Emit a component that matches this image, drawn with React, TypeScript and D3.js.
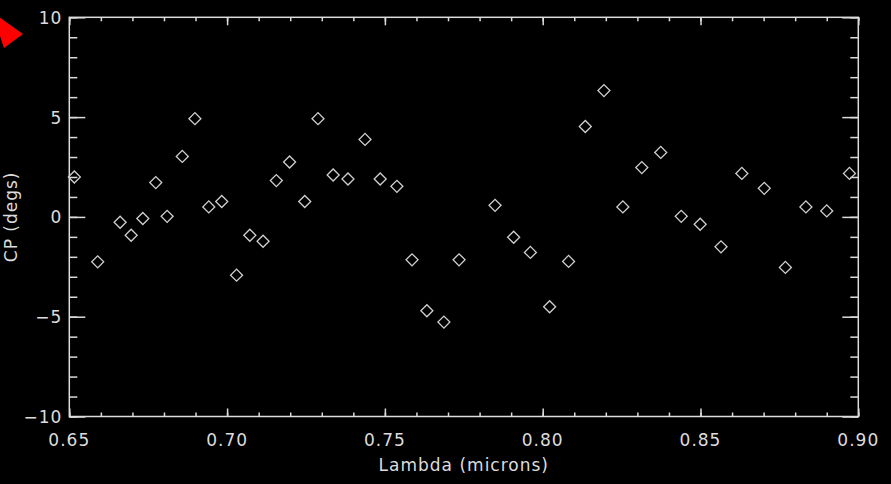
import React, { useEffect, useRef } from "react";
import * as d3 from "d3";

// wavelength in microns
const lambda = [
  0.6516, 0.659, 0.6661, 0.6696, 0.6733, 0.6774, 0.681, 0.6858, 0.6898, 0.6942,
  0.6983, 0.703, 0.7072, 0.7114, 0.7156, 0.7198, 0.7246, 0.7288, 0.7336, 0.7383,
  0.7437, 0.7485, 0.7538, 0.7586, 0.7633, 0.7687, 0.7735, 0.7849, 0.7908, 0.7961,
  0.8022, 0.8082, 0.8135, 0.8194, 0.8254, 0.8314, 0.8374, 0.8439, 0.8499, 0.8565,
  0.8631, 0.8702, 0.8769, 0.8834, 0.89, 0.8972,
];

// closure phase in degrees
const cp = [
  2.0, -2.25, -0.27, -0.92, -0.08, 1.72, 0.03, 3.03, 4.92, 0.5,
  0.77, -2.92, -0.92, -1.22, 1.82, 2.75, 0.77, 4.92, 2.1, 1.9,
  3.88, 1.9, 1.53, -2.15, -4.7, -5.27, -2.15, 0.58, -1.02, -1.78,
  -4.5, -2.23, 4.53, 6.33, 0.5, 2.47, 3.23, 0.03, -0.37, -1.5,
  2.18, 1.43, -2.53, 0.5, 0.3, 2.18,
];

const xMajor = [0.65, 0.7, 0.75, 0.8, 0.85, 0.9];
const xLabels = ["0.65", "0.70", "0.75", "0.80", "0.85", "0.90"];
const yMajor = [-10, -5, 0, 5, 10];
const yLabels = ["\u221210", "\u22125", "0", "5", "10"];

const xTitle = "Lambda (microns)";
const yTitle = "CP (degs)";

export default function App() {
  const ref = useRef<SVGSVGElement>(null);

  useEffect(() => {
    const W = 891, H = 484;
    const left = 69.3, right = 858.3, top = 17.3, bottom = 416.5;
    const fg = "#dcdcdc";
    const font = "'DejaVu Sans', sans-serif";

    const svg = d3.select(ref.current);
    svg.selectAll("*").remove();
    svg.attr("width", W).attr("height", H);

    svg.append("rect").attr("width", W).attr("height", H).attr("fill", "#000");

    const x = d3.scaleLinear().domain([0.65, 0.9]).range([left, right]);
    const y = d3.scaleLinear().domain([-10, 10]).range([bottom, top]);

    const xMinor = d3.range(65, 91).map((v) => v / 100);
    const yMinor = d3.range(-10, 11);

    const styleAxis = (g: any) => {
      g.select(".domain").remove();
      g.selectAll("line").attr("stroke", fg).attr("stroke-width", 1.5);
      g.selectAll("text").remove();
    };

    // minor + major ticks on all four sides
    svg.append("g").attr("transform", `translate(0,${bottom})`)
      .call(d3.axisBottom(x).tickValues(xMinor).tickSize(-4)).call(styleAxis);
    svg.append("g").attr("transform", `translate(0,${bottom})`)
      .call(d3.axisBottom(x).tickValues(xMajor).tickSize(-8)).call(styleAxis);
    svg.append("g").attr("transform", `translate(0,${top})`)
      .call(d3.axisTop(x).tickValues(xMinor).tickSize(-4)).call(styleAxis);
    svg.append("g").attr("transform", `translate(0,${top})`)
      .call(d3.axisTop(x).tickValues(xMajor).tickSize(-8)).call(styleAxis);
    svg.append("g").attr("transform", `translate(${left},0)`)
      .call(d3.axisLeft(y).tickValues(yMinor).tickSize(-8)).call(styleAxis);
    svg.append("g").attr("transform", `translate(${left},0)`)
      .call(d3.axisLeft(y).tickValues(yMajor).tickSize(-16)).call(styleAxis);
    svg.append("g").attr("transform", `translate(${right},0)`)
      .call(d3.axisRight(y).tickValues(yMinor).tickSize(-8)).call(styleAxis);
    svg.append("g").attr("transform", `translate(${right},0)`)
      .call(d3.axisRight(y).tickValues(yMajor).tickSize(-16)).call(styleAxis);

    // frame
    svg.append("rect")
      .attr("x", left).attr("y", top)
      .attr("width", right - left).attr("height", bottom - top)
      .attr("fill", "none").attr("stroke", fg).attr("stroke-width", 1.5);

    // tick labels
    svg.append("g").selectAll("text").data(xMajor).join("text")
      .attr("x", (d) => x(d)).attr("y", bottom + 29)
      .attr("text-anchor", "middle")
      .attr("font-family", font).attr("font-size", 17)
      .attr("letter-spacing", 1)
      .attr("fill", fg)
      .text((d, i) => xLabels[i]);

    svg.append("g").selectAll("text").data(yMajor).join("text")
      .attr("x", left - 7).attr("y", (d) => y(d) + 6.5)
      .attr("text-anchor", "end")
      .attr("font-family", font).attr("font-size", 17)
      .attr("letter-spacing", 1)
      .attr("fill", fg)
      .text((d, i) => yLabels[i]);

    // axis titles
    svg.append("text")
      .attr("x", (left + right) / 2).attr("y", 471)
      .attr("text-anchor", "middle")
      .attr("font-family", font).attr("font-size", 17)
      .attr("letter-spacing", 1)
      .attr("fill", fg)
      .text(xTitle);

    svg.append("text")
      .attr("transform", `translate(17,${(top + bottom) / 2}) rotate(-90)`)
      .attr("text-anchor", "middle")
      .attr("font-family", font).attr("font-size", 17)
      .attr("letter-spacing", 1)
      .attr("fill", fg)
      .text(yTitle);

    // data points as open diamonds
    const diamond = d3.symbol().type(d3.symbolSquare).size(72);
    svg.append("g").selectAll("path").data(lambda).join("path")
      .attr("d", diamond() as string)
      .attr("transform", (d, i) => `translate(${x(d)},${y(cp[i])}) rotate(45)`)
      .attr("fill", "none")
      .attr("stroke", "#cfcfcf")
      .attr("stroke-width", 1.3);

    // red marker arrow at top left
    svg.append("polygon")
      .attr("points", "-8,12 23,34 4,48")
      .attr("fill", "#ff0000");
  }, []);

  return (
    <svg ref={ref} style={{ position: "absolute", left: 0, top: 0, display: "block" }} />
  );
}
